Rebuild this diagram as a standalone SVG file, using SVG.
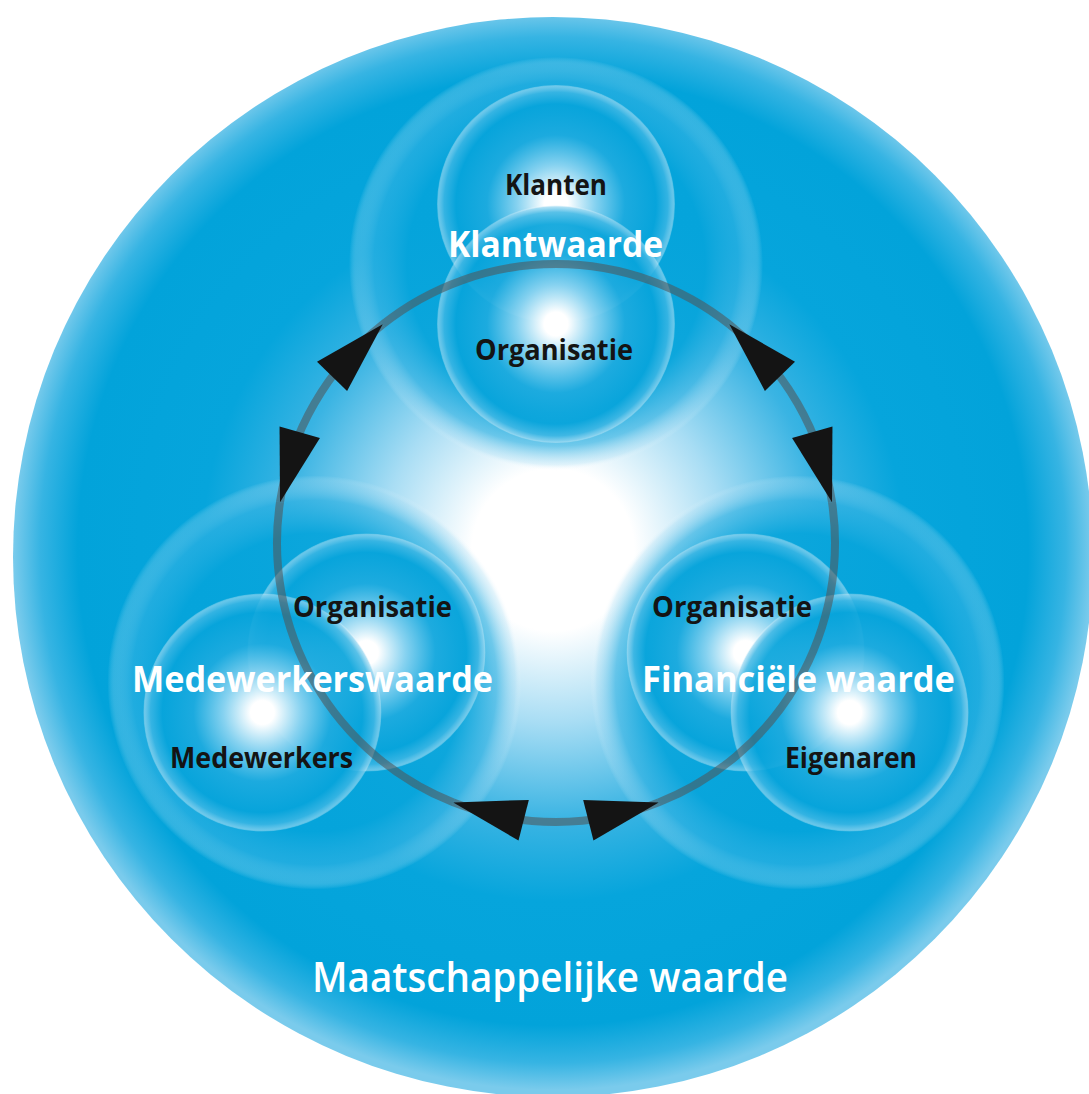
<svg xmlns="http://www.w3.org/2000/svg" width="1089" height="1094" viewBox="0 0 1089 1094">
  <style>
    .lbl { font-family: "Open Sans", "Liberation Sans", sans-serif; font-weight: 700; font-size: 28px; fill: #141414; text-anchor: middle; }
    .ttl { font-family: "Open Sans", "Liberation Sans", sans-serif; font-weight: 700; font-size: 35px; fill: #ffffff; text-anchor: middle; }
    .big { font-family: "Open Sans", "Liberation Sans", sans-serif; font-weight: 600; font-size: 42px; fill: #ffffff; text-anchor: middle; }
    .halo { fill: url(#gHalo); }
    .orb { fill: url(#gOrb); }
    .ring { fill: none; stroke: #50565a; stroke-opacity: 0.58; stroke-width: 8; }
    .conn { marker-start: url(#arrStart); marker-end: url(#arrEnd); }
  </style>
  <defs>
    <radialGradient id="gBig" gradientUnits="userSpaceOnUse" cx="553" cy="550" r="540">
      <stop offset="0" stop-color="#ffffff"/>
      <stop offset="0.15" stop-color="#ffffff"/>
      <stop offset="0.32" stop-color="#a8ddf4"/>
      <stop offset="0.5" stop-color="#3ab4e3"/>
      <stop offset="0.65" stop-color="#06a5dc"/>
      <stop offset="0.88" stop-color="#02a3da"/>
      <stop offset="0.95" stop-color="#36b4e3"/>
      <stop offset="1" stop-color="#7acbec"/>
    </radialGradient>
    <radialGradient id="gHalo">
      <stop offset="0" stop-color="#05a4db" stop-opacity="0.95"/>
      <stop offset="0.72" stop-color="#05a4db" stop-opacity="0.92"/>
      <stop offset="0.88" stop-color="#2fb1e2" stop-opacity="0.65"/>
      <stop offset="0.97" stop-color="#9fd9f2" stop-opacity="0.3"/>
      <stop offset="1" stop-color="#ffffff" stop-opacity="0"/>
    </radialGradient>
    <radialGradient id="gOrb">
      <stop offset="0" stop-color="#ffffff" stop-opacity="1"/>
      <stop offset="0.1" stop-color="#ffffff" stop-opacity="1"/>
      <stop offset="0.33" stop-color="#8cd4f1" stop-opacity="0.95"/>
      <stop offset="0.58" stop-color="#1eabdf" stop-opacity="0.92"/>
      <stop offset="0.84" stop-color="#07a4db" stop-opacity="0.9"/>
      <stop offset="0.94" stop-color="#3bb6e4" stop-opacity="0.85"/>
      <stop offset="0.985" stop-color="#8fd4f0" stop-opacity="0.7"/>
      <stop offset="1" stop-color="#ffffff" stop-opacity="0.2"/>
    </radialGradient>
    <marker id="arrEnd" markerUnits="userSpaceOnUse" markerWidth="80" markerHeight="80" refX="0" refY="0" orient="auto" style="overflow:visible">
      <path d="M0,0 L-74.7,-11.5 L-69.3,30.1 Z" fill="#141414"/>
    </marker>
    <marker id="arrStart" markerUnits="userSpaceOnUse" markerWidth="80" markerHeight="80" refX="0" refY="0" orient="auto" style="overflow:visible">
      <path d="M0,0 L74.7,-11.5 L69.3,30.1 Z" fill="#141414"/>
    </marker>
  </defs>

  <g id="node-maatschappelijke-waarde">
    <circle cx="553" cy="557" r="540" fill="url(#gBig)"/>
  </g>

  <g id="node-klantwaarde">
    <circle class="halo" cx="556" cy="264" r="207"/>
    <circle class="orb" cx="556" cy="204" r="119"/>
    <circle class="orb" cx="556" cy="324" r="119"/>
  </g>

  <g id="node-medewerkerswaarde">
    <circle class="halo" cx="314.4" cy="682.5" r="207"/>
    <circle class="orb" cx="366.4" cy="652.5" r="119"/>
    <circle class="orb" cx="262.4" cy="712.5" r="119"/>
  </g>

  <g id="node-financiele-waarde">
    <circle class="halo" cx="797.6" cy="682.5" r="207"/>
    <circle class="orb" cx="745.6" cy="652.5" r="119"/>
    <circle class="orb" cx="849.6" cy="712.5" r="119"/>
  </g>

  <g id="connectors">
    <path class="ring" d="M382.7,324.35 A279,279 0 0 1 729.3,324.35"/>
    <path class="ring" d="M832,502.2 A279,279 0 0 1 658.7,802.4"/>
    <path class="ring" d="M453.3,802.4 A279,279 0 0 1 280,502.2"/>
    <path id="conn-medewerkers-klant" class="ring conn" d="M280,502.2 A279,279 0 0 1 382.7,324.35"/>
    <path id="conn-klant-financieel" class="ring conn" d="M729.3,324.35 A279,279 0 0 1 832,502.2"/>
    <path id="conn-financieel-medewerkers" class="ring conn" d="M658.7,802.4 A279,279 0 0 1 453.3,802.4"/>
  </g>

  <g id="labels">
    <g id="label-klantwaarde">
      <text class="lbl" x="556" y="195" textLength="102" lengthAdjust="spacingAndGlyphs">Klanten</text>
      <text class="ttl" x="555.5" y="257" textLength="215" lengthAdjust="spacingAndGlyphs">Klantwaarde</text>
      <text class="lbl" x="554" y="360" textLength="158" lengthAdjust="spacingAndGlyphs">Organisatie</text>
    </g>
    <g id="label-medewerkerswaarde">
      <text class="lbl" x="372.5" y="617" textLength="159" lengthAdjust="spacingAndGlyphs">Organisatie</text>
      <text class="ttl" x="312.5" y="692" textLength="361" lengthAdjust="spacingAndGlyphs">Medewerkerswaarde</text>
      <text class="lbl" x="261.5" y="768" textLength="183" lengthAdjust="spacingAndGlyphs">Medewerkers</text>
    </g>
    <g id="label-financiele-waarde">
      <text class="lbl" x="732" y="617" textLength="160" lengthAdjust="spacingAndGlyphs">Organisatie</text>
      <text class="ttl" x="798.5" y="692" textLength="313" lengthAdjust="spacingAndGlyphs">Financiële waarde</text>
      <text class="lbl" x="851" y="768" textLength="132" lengthAdjust="spacingAndGlyphs">Eigenaren</text>
    </g>
    <g id="label-maatschappelijke-waarde">
      <text class="big" x="550" y="992" textLength="476" lengthAdjust="spacingAndGlyphs">Maatschappelijke waarde</text>
    </g>
  </g>
</svg>
